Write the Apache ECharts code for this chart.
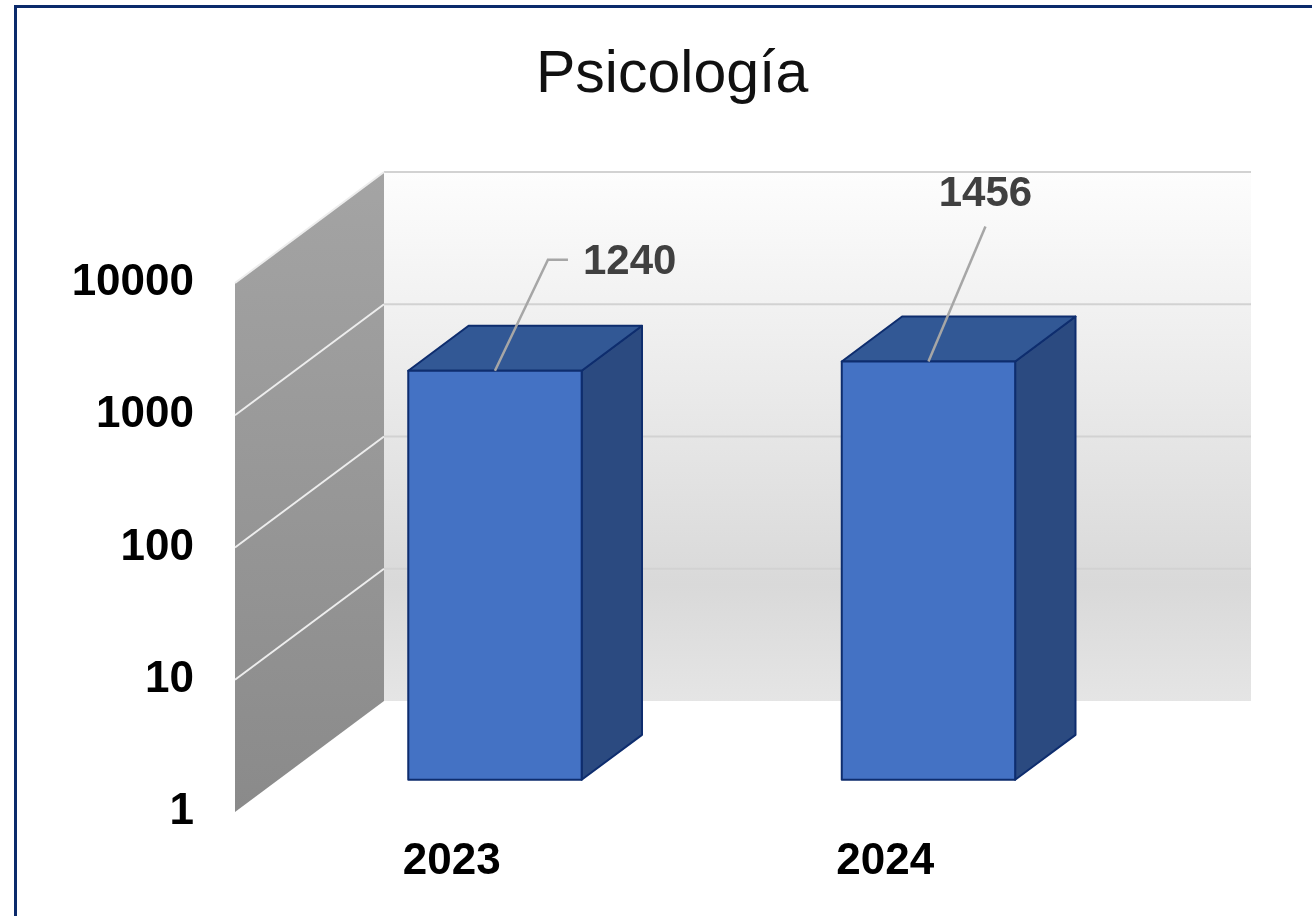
<!DOCTYPE html>
<html>
<head>
<meta charset="utf-8">
<title>Psicología</title>
<script src="https://cdn.jsdelivr.net/npm/echarts@6/dist/echarts.min.js"></script>
<style>
  html, body { margin: 0; padding: 0; background: #fff; }
  #chart { width: 1312px; height: 916px; }
</style>
</head>
<body>
<div id="chart"></div>
<script>
// data
const categories = ['2023', '2024']
const values = [1240, 1456]
const yTicks = [1, 10, 100, 1000, 10000]

// 3d look
const DEPTH = [149, -111]   // full depth of the walls
const BAR_Z0 = 0.29         // bar front face, fraction of depth
const BAR_Z1 = 0.695        // bar back face
const BAR_FRAC = 0.4        // bar width / band width
const FONT = "'Liberation Sans', Arial, sans-serif"

// where each data label sits relative to the middle of the bar's top front edge
const labelLayout = [
  { line: [[0, 0], [53, -111], [73, -111]], text: [88, -108], align: 'left' },
  { line: [[0, 0], [57, -135]], text: [57, -167], align: 'center' }
]

function renderWalls(params, api) {
  const cs = params.coordSys
  const x0 = cs.x, x1 = cs.x + cs.width
  const yTop = api.coord([0, yTicks[yTicks.length - 1]])[1]
  const yBot = api.coord([0, yTicks[0]])[1]
  const dx = DEPTH[0], dy = DEPTH[1]
  const children = []

  // back wall
  children.push({
    type: 'rect',
    shape: { x: x0 + dx, y: yTop + dy, width: x1 - x0, height: yBot - yTop },
    style: {
      fill: new echarts.graphic.LinearGradient(0, 0, 0, 1, [
        { offset: 0, color: '#fdfdfd' },
        { offset: 0.78, color: '#d9d9d9' },
        { offset: 1, color: '#e5e5e5' }
      ])
    }
  })
  // left wall
  children.push({
    type: 'polygon',
    shape: { points: [[x0, yTop], [x0 + dx, yTop + dy], [x0 + dx, yBot + dy], [x0, yBot]] },
    style: {
      fill: new echarts.graphic.LinearGradient(0, 0, 0, 1, [
        { offset: 0, color: '#a4a4a4' },
        { offset: 1, color: '#8a8a8a' }
      ])
    }
  })
  // grid lines on both walls
  yTicks.forEach(function (t, i) {
    const y = api.coord([0, t])[1]
    if (i > 0) {
      children.push({
        type: 'line',
        shape: { x1: x0 + dx, y1: y + dy, x2: x1 + dx, y2: y + dy },
        style: { stroke: '#d2d2d2', lineWidth: 2 }
      })
      children.push({
        type: 'line',
        shape: { x1: x0, y1: y, x2: x0 + dx, y2: y + dy },
        style: { stroke: '#ededed', lineWidth: 2 }
      })
    }
  })
  return { type: 'group', children: children }
}

function renderBar(params, api) {
  const idx = api.value(0)
  const top = api.coord([idx, api.value(1)])
  const base = api.coord([idx, yTicks[0]])
  const bw = api.size([1, 0])[0] * BAR_FRAC
  const ox = DEPTH[0] * BAR_Z0, oy = DEPTH[1] * BAR_Z0
  const ddx = DEPTH[0] * (BAR_Z1 - BAR_Z0), ddy = DEPTH[1] * (BAR_Z1 - BAR_Z0)
  const xl = top[0] - bw / 2 + ox, xr = top[0] + bw / 2 + ox
  const yt = top[1] + oy, yb = base[1] + oy
  const edge = { stroke: '#0e2d6e', lineWidth: 2, lineJoin: 'round' }

  const children = [
    {
      type: 'polygon',
      shape: { points: [[xr, yt], [xr + ddx, yt + ddy], [xr + ddx, yb + ddy], [xr, yb]] },
      style: Object.assign({ fill: '#2b4a80' }, edge)
    },
    {
      type: 'polygon',
      shape: { points: [[xl, yt], [xl + ddx, yt + ddy], [xr + ddx, yt + ddy], [xr, yt]] },
      style: Object.assign({ fill: '#325895' }, edge)
    },
    {
      type: 'rect',
      shape: { x: xl, y: yt, width: xr - xl, height: yb - yt },
      style: Object.assign({ fill: '#4472c4' }, edge)
    }
  ]

  // data label with leader line
  const lay = labelLayout[params.dataIndex]
  const cx = (xl + xr) / 2
  children.push({
    type: 'polyline',
    shape: { points: lay.line.map(function (p) { return [cx + p[0], yt + p[1]] }) },
    style: { stroke: '#a6a6a6', lineWidth: 2.5, fill: null }
  })
  children.push({
    type: 'text',
    x: cx + lay.text[0],
    y: yt + lay.text[1],
    style: {
      text: String(api.value(1)),
      fill: '#404040',
      font: 'bold 42px ' + FONT,
      align: lay.align,
      verticalAlign: 'middle'
    }
  })
  return { type: 'group', children: children }
}

const chart = echarts.init(document.getElementById('chart'))
chart.setOption({
  backgroundColor: '#fff',
  animation: false,
  title: {
    text: 'Psicología',
    left: 536,
    top: 46,
    padding: 0,
    textStyle: { fontFamily: FONT, fontSize: 59, fontWeight: 'normal', color: '#111' }
  },
  grid: { left: 235, width: 867, top: 283, bottom: 104 },
  xAxis: {
    type: 'category',
    data: categories,
    axisLine: { show: false },
    axisTick: { show: false },
    axisLabel: { margin: 28, fontFamily: FONT, fontSize: 44, fontWeight: 'bold', color: '#000' }
  },
  yAxis: {
    type: 'log',
    logBase: 10,
    min: yTicks[0],
    max: yTicks[yTicks.length - 1],
    axisLine: { show: false },
    axisTick: { show: false },
    splitLine: { show: false },
    axisLabel: {
      margin: 41,
      fontFamily: FONT,
      fontSize: 44,
      fontWeight: 'bold',
      color: '#000',
      formatter: function (v) { return String(Math.round(v)) }
    }
  },
  graphic: [
    {
      type: 'polyline',
      shape: { points: [[15.5, 916], [15.5, 6.5], [1312, 6.5]] },
      style: { stroke: '#0b2a6b', lineWidth: 3, fill: null },
      z: 100
    }
  ],
  series: [
    {
      type: 'custom',
      clip: false,
      silent: true,
      renderItem: renderWalls,
      data: [[0, yTicks[0]]],
      z: 1
    },
    {
      type: 'custom',
      clip: false,
      renderItem: renderBar,
      data: values.map(function (v, i) { return [i, v] }),
      z: 2
    }
  ]
})
</script>
</body>
</html>
